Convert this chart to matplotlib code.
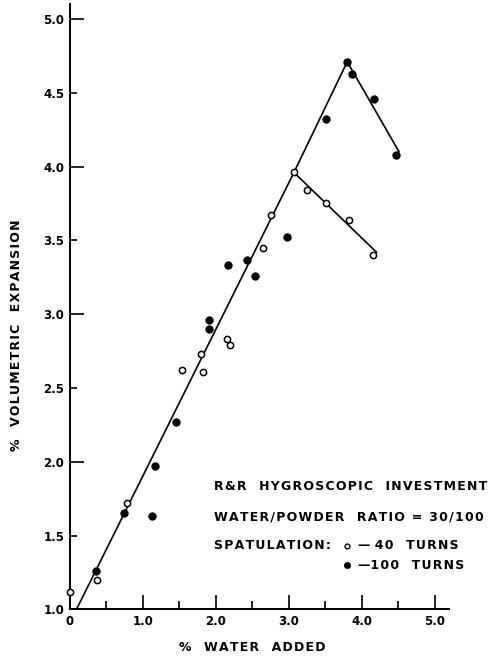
import matplotlib
matplotlib.use("Agg")
import matplotlib.pyplot as plt
from matplotlib.ticker import FixedLocator, FormatStrFormatter

# 40 turns (open circles)
x40 = [0.0, 0.37, 0.78, 1.54, 1.79, 1.83, 2.15, 2.20, 2.64, 2.75, 3.07, 3.25, 3.51, 3.82, 4.16]
y40 = [1.12, 1.20, 1.72, 2.62, 2.73, 2.61, 2.83, 2.79, 3.45, 3.67, 3.96, 3.84, 3.75, 3.64, 3.40]

# 100 turns (filled circles)
x100 = [0.36, 0.74, 1.12, 1.16, 1.45, 1.91, 1.91, 2.17, 2.42, 2.53, 2.97, 3.51, 3.80, 3.86, 4.17, 4.47]
y100 = [1.26, 1.65, 1.63, 1.97, 2.27, 2.96, 2.90, 3.33, 3.37, 3.26, 3.52, 4.32, 4.71, 4.63, 4.46, 4.08]

# drawn curves
rise_x = [0.09, 3.07, 3.80]
rise_y = [1.00, 3.96, 4.71]
fall40_x = [3.07, 4.20]
fall40_y = [3.96, 3.42]
fall100_x = [3.80, 4.51]
fall100_y = [4.71, 4.10]

ytick_major = [1.0, 2.0, 3.0, 4.0, 5.0]
ytick_minor = [1.5, 2.5, 3.5, 4.5]
xtick_major = [0, 1, 2, 3, 4, 5]
xtick_minor = [0.5, 1.5, 2.5, 3.5, 4.5]
xtick_labels = ["0", "1.0", "2.0", "3.0", "4.0", "5.0"]


def spaced(s):
    # the lettering on the original is widely tracked
    return "\u200a".join(s)


plt.rcParams['font.family'] = 'DejaVu Sans'
plt.rcParams['font.weight'] = 'bold'
plt.rcParams['axes.labelweight'] = 'bold'

fig = plt.figure(figsize=(4.89, 6.58), dpi=100)
ax = fig.add_axes([0.143, 0.074, 0.776, 0.9196])
ax.set_xlim(0, 5.2)
ax.set_ylim(1.0, 5.1)

ax.plot(rise_x, rise_y, '-', color='black', linewidth=1.2)
ax.plot(fall40_x, fall40_y, '-', color='black', linewidth=1.2)
ax.plot(fall100_x, fall100_y, '-', color='black', linewidth=1.2)
ax.plot(x40, y40, 'o', markerfacecolor='white', markeredgecolor='black',
        markersize=4.5, markeredgewidth=1.1, linestyle='none', zorder=3, clip_on=False)
ax.plot(x100, y100, 'o', color='black', markersize=5, linestyle='none', zorder=3)

for s in ['top', 'right']:
    ax.spines[s].set_visible(False)
for s in ['left', 'bottom']:
    ax.spines[s].set_linewidth(1.4)

ax.yaxis.set_major_locator(FixedLocator(ytick_major))
ax.yaxis.set_minor_locator(FixedLocator(ytick_minor))
ax.yaxis.set_major_formatter(FormatStrFormatter('%.1f'))
ax.yaxis.set_minor_formatter(FormatStrFormatter('%.1f'))
ax.xaxis.set_major_locator(FixedLocator(xtick_major))
ax.xaxis.set_minor_locator(FixedLocator(xtick_minor))
ax.set_xticklabels(xtick_labels)

ax.tick_params(axis='both', which='both', direction='in', width=1.2, labelsize=8.5, pad=4)
ax.tick_params(axis='y', which='major', length=10)
ax.tick_params(axis='y', which='minor', length=5)
ax.tick_params(axis='x', which='major', length=10)
ax.tick_params(axis='x', which='minor', length=6)

ax.set_xlabel(spaced("%  WATER  ADDED"), fontsize=9)
ax.set_ylabel(spaced("%  VOLUMETRIC  EXPANSION"), fontsize=9)
ax.xaxis.set_label_coords(0.48, -0.053)
ax.yaxis.set_label_coords(-0.124, 0.453)

fs = 9
ax.text(1.97, 1.83, spaced("R&R  HYGROSCOPIC  INVESTMENT"), fontsize=fs, va='center', clip_on=False)
ax.text(1.97, 1.627, spaced("WATER/POWDER  RATIO = 30/100"), fontsize=fs, va='center', clip_on=False)
ax.text(1.97, 1.431, spaced("SPATULATION:"), fontsize=fs, va='center')
ax.plot([3.80], [1.431], 'o', markerfacecolor='white', markeredgecolor='black',
        markersize=3.5, markeredgewidth=1.0, clip_on=False)
ax.text(3.95, 1.431, "\u2014 " + spaced("40  TURNS"), fontsize=fs, va='center', clip_on=False)
ax.plot([3.80], [1.30], 'o', color='black', markersize=4, clip_on=False)
ax.text(3.95, 1.30, "\u2014" + spaced("100  TURNS"), fontsize=fs, va='center', clip_on=False)

plt.savefig("out.png", dpi=100)
